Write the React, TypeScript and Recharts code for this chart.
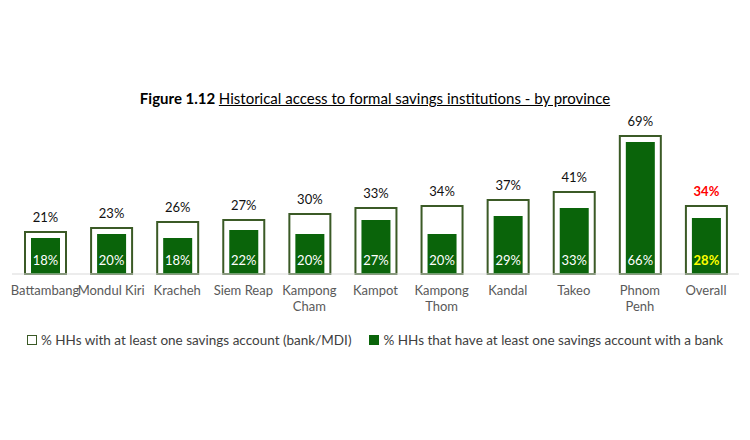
import { BarChart, Bar, XAxis, YAxis, LabelList } from 'recharts';

const provinces = ['Battambang', 'Mondul Kiri', 'Kracheh', 'Siem Reap', 'Kampong Cham', 'Kampot', 'Kampong Thom', 'Kandal', 'Takeo', 'Phnom Penh', 'Overall'];
const tickLines = [['Battambang'], ['Mondul Kiri'], ['Kracheh'], ['Siem Reap'], ['Kampong', 'Cham'], ['Kampot'], ['Kampong', 'Thom'], ['Kandal'], ['Takeo'], ['Phnom', 'Penh'], ['Overall']];
const anyAccount = [21, 23, 26, 27, 30, 33, 34, 37, 41, 69, 34];
const bankAccount = [18, 20, 18, 22, 20, 27, 20, 29, 33, 66, 28];

const data = provinces.map((name, i) => ({ name, any: anyAccount[i], bank: bankAccount[i] }));

const FONT = 'Lato, "Open Sans", sans-serif';
const OUTLINE = '#3b5a26';
const GREEN = '#0a640a';

const ProvinceTick = (props: any) => {
  const { x, y, index } = props;
  const lines = tickLines[index] || [];
  return (
    <g>
      {lines.map((line, k) => (
        <text key={k} x={x} y={y + 13 + k * 16} textAnchor="middle" fontFamily={FONT} fontSize={13} fill="#595959">
          {line}
        </text>
      ))}
    </g>
  );
};

const topLabel = (props: any) => {
  const { x, y, width, value, index } = props;
  const last = index === provinces.length - 1;
  return (
    <text x={x + width / 2} y={y - 10} textAnchor="middle" fontFamily={FONT} fontSize={13} fill={last ? '#ff0000' : '#111'} fontWeight={last ? 700 : 400}>
      {value}%
    </text>
  );
};

const innerLabel = (props: any) => {
  const { x, y, width, height, value, index } = props;
  const last = index === provinces.length - 1;
  return (
    <text x={x + width / 2} y={y + height - 9} textAnchor="middle" fontFamily={FONT} fontSize={13} fill={last ? '#ffff00' : '#fff'} fontWeight={last ? 700 : 400}>
      {value}%
    </text>
  );
};

export default function App() {
  return (
    <div style={{ position: 'fixed', left: 0, top: 0, width: 750, height: 440, background: '#fff', fontFamily: FONT }}>
      <div style={{ position: 'absolute', top: 89, left: 0, width: 750, textAlign: 'center', fontSize: 15, color: '#000' }}>
        <b>Figure 1.12 </b>
        <span style={{ textDecoration: 'underline' }}>Historical access to formal savings institutions - by province</span>
      </div>
      <BarChart width={750} height={440} data={data} margin={{ top: 114, right: 11, bottom: 126, left: 12 }}>
        <XAxis xAxisId="outer" dataKey="name" height={40} interval={0} tickLine={false} axisLine={{ stroke: '#d9d9d9' }} tick={<ProvinceTick />} />
        <XAxis xAxisId="inner" dataKey="name" hide height={0} />
        <YAxis hide domain={[0, 80]} />
        <Bar xAxisId="outer" dataKey="any" barSize={41} fill="#fff" stroke={OUTLINE} strokeWidth={2} isAnimationActive={false}>
          <LabelList dataKey="any" content={topLabel} />
        </Bar>
        <Bar xAxisId="inner" dataKey="bank" barSize={29} fill={GREEN} isAnimationActive={false}>
          <LabelList dataKey="bank" content={innerLabel} />
        </Bar>
      </BarChart>
      <div style={{ position: 'absolute', top: 332, left: 0, width: 750, display: 'flex', justifyContent: 'center', alignItems: 'center', fontSize: 13.5, color: '#404040' }}>
        <span style={{ display: 'inline-block', width: 8, height: 8, border: `1.5px solid ${OUTLINE}`, marginRight: 4 }} />
        <span style={{ marginRight: 18 }}>% HHs with at least one savings account (bank/MDI)</span>
        <span style={{ display: 'inline-block', width: 10, height: 10, background: GREEN, marginRight: 4 }} />
        <span>% HHs that have at least one savings account with a bank</span>
      </div>
    </div>
  );
}
